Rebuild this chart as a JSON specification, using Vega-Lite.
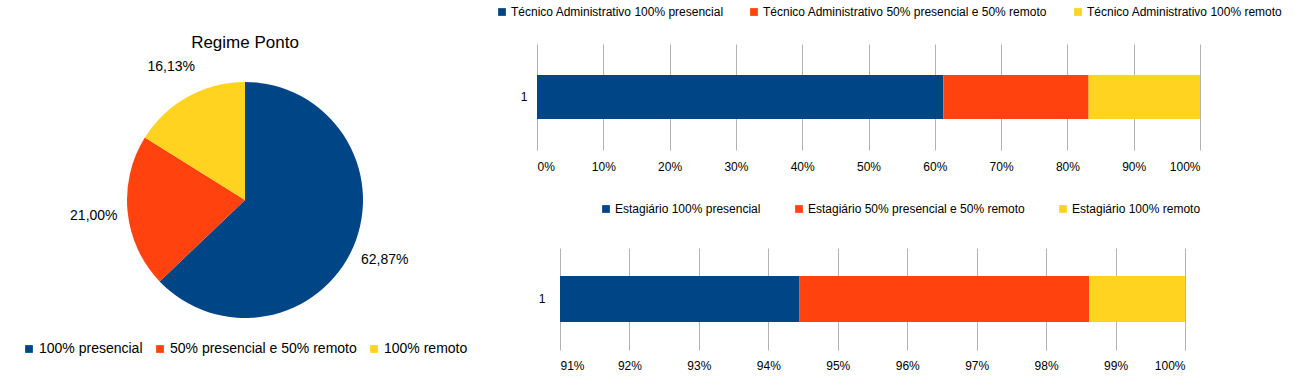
{
  "$schema": "https://vega.github.io/schema/vega-lite/v6.json",
  "padding": {"left": 0, "top": 6, "right": 0, "bottom": 0},
  "background": "white",
  "config": {
    "locale": {"number": {"decimal": ",", "thousands": ".", "grouping": [3], "currency": ["R$", ""]}},
    "view": {"stroke": null},
    "font": "Liberation Sans",
    "axis": {"labelFont": "Liberation Sans", "labelColor": "#000", "labelFontSize": 12},
    "legend": {"labelFont": "Liberation Sans", "labelColor": "#000", "labelFontSize": 12, "labelLimit": 0, "symbolType": "square", "symbolSize": 60, "symbolStrokeWidth": 0, "labelOffset": 3}
  },
  "datasets": {
    "pie": [
      {"regime": "100% presencial", "valor": 0.6287, "ordem": 1},
      {"regime": "50% presencial e 50% remoto", "valor": 0.21, "ordem": 2},
      {"regime": "100% remoto", "valor": 0.1613, "ordem": 3}
    ],
    "ta": [
      {"categoria": "1", "regime": "Técnico Administrativo 100% presencial", "valor": 0.613, "ordem": 1},
      {"categoria": "1", "regime": "Técnico Administrativo 50% presencial e 50% remoto", "valor": 0.219, "ordem": 2},
      {"categoria": "1", "regime": "Técnico Administrativo 100% remoto", "valor": 0.168, "ordem": 3}
    ],
    "est": [
      {"categoria": "1", "regime": "Estagiário 100% presencial", "valor": 0.9445, "ordem": 1},
      {"categoria": "1", "regime": "Estagiário 50% presencial e 50% remoto", "valor": 0.0417, "ordem": 2},
      {"categoria": "1", "regime": "Estagiário 100% remoto", "valor": 0.0138, "ordem": 3}
    ]
  },
  "hconcat": [
    {
      "width": 490,
      "height": 312,
      "title": {"text": "Regime Ponto", "fontSize": 17, "font": "Liberation Sans", "fontWeight": "normal", "color": "#000", "anchor": "middle", "offset": -8},
      "data": {"name": "pie"},
      "encoding": {
        "theta": {"field": "valor", "type": "quantitative", "stack": true},
        "order": {"field": "ordem", "type": "quantitative"}
      },
      "layer": [
        {
          "mark": {"type": "arc", "outerRadius": 118},
          "encoding": {
            "color": {
              "field": "regime", "type": "nominal",
              "scale": {"domain": ["100% presencial", "50% presencial e 50% remoto", "100% remoto"], "range": ["#004586", "#ff420e", "#ffd320"]},
              "legend": {"title": null, "orient": "none", "direction": "horizontal", "legendX": 22, "legendY": 298, "labelFontSize": 14, "columnPadding": 10}
            }
          }
        },
        {
          "mark": {"type": "text", "radius": 152, "fontSize": 14, "font": "Liberation Sans", "color": "#000"},
          "encoding": {"text": {"field": "valor", "type": "quantitative", "format": ".2%"}}
        }
      ]
    },
    {
      "vconcat": [
        {
          "width": 663,
          "height": 106,
          "data": {"name": "ta"},
          "mark": {"type": "bar", "size": 44},
          "encoding": {
            "y": {"field": "categoria", "type": "nominal", "axis": {"title": null, "labelAngle": 0, "ticks": false, "domain": false, "labelPadding": 10}},
            "x": {"field": "valor", "type": "quantitative", "stack": true, "scale": {"domain": [0, 1]},
              "axis": {"title": null, "format": ".0%", "values": [0, 0.1, 0.2, 0.3, 0.4, 0.5, 0.6, 0.7, 0.8, 0.9, 1], "grid": true, "gridColor": "#b3b3b3", "domain": false, "ticks": false, "labelPadding": 11}},
            "color": {"field": "regime", "type": "nominal",
              "scale": {"domain": ["Técnico Administrativo 100% presencial", "Técnico Administrativo 50% presencial e 50% remoto", "Técnico Administrativo 100% remoto"], "range": ["#004586", "#ff420e", "#ffd320"]},
              "legend": {"title": null, "orient": "none", "direction": "horizontal", "legendX": -41, "legendY": -38, "columnPadding": 24}},
            "order": {"field": "ordem", "type": "quantitative"}
          }
        },
        {
          "width": 663,
          "height": 102,
          "data": {"name": "est"},
          "mark": {"type": "bar", "size": 46},
          "encoding": {
            "y": {"field": "categoria", "type": "nominal", "axis": {"title": null, "labelAngle": 0, "ticks": false, "domain": false, "labelPadding": 10, "offset": -18}},
            "x": {"field": "valor", "type": "quantitative", "stack": true, "scale": {"domain": [0.91, 1], "range": [23, 648], "clamp": true},
              "axis": {"title": null, "format": ".0%", "values": [0.91, 0.92, 0.93, 0.94, 0.95, 0.96, 0.97, 0.98, 0.99, 1], "grid": true, "gridColor": "#b3b3b3", "domain": false, "ticks": false, "labelPadding": 10}},
            "color": {"field": "regime", "type": "nominal",
              "scale": {"domain": ["Estagiário 100% presencial", "Estagiário 50% presencial e 50% remoto", "Estagiário 100% remoto"], "range": ["#004586", "#ff420e", "#ffd320"]},
              "legend": {"title": null, "orient": "none", "direction": "horizontal", "legendX": 63, "legendY": -45, "columnPadding": 32}},
            "order": {"field": "ordem", "type": "quantitative"}
          }
        }
      ],
      "spacing": 31,
      "resolve": {"scale": {"color": "independent"}}
    }
  ],
  "spacing": 6,
  "resolve": {"scale": {"color": "independent"}}
}
